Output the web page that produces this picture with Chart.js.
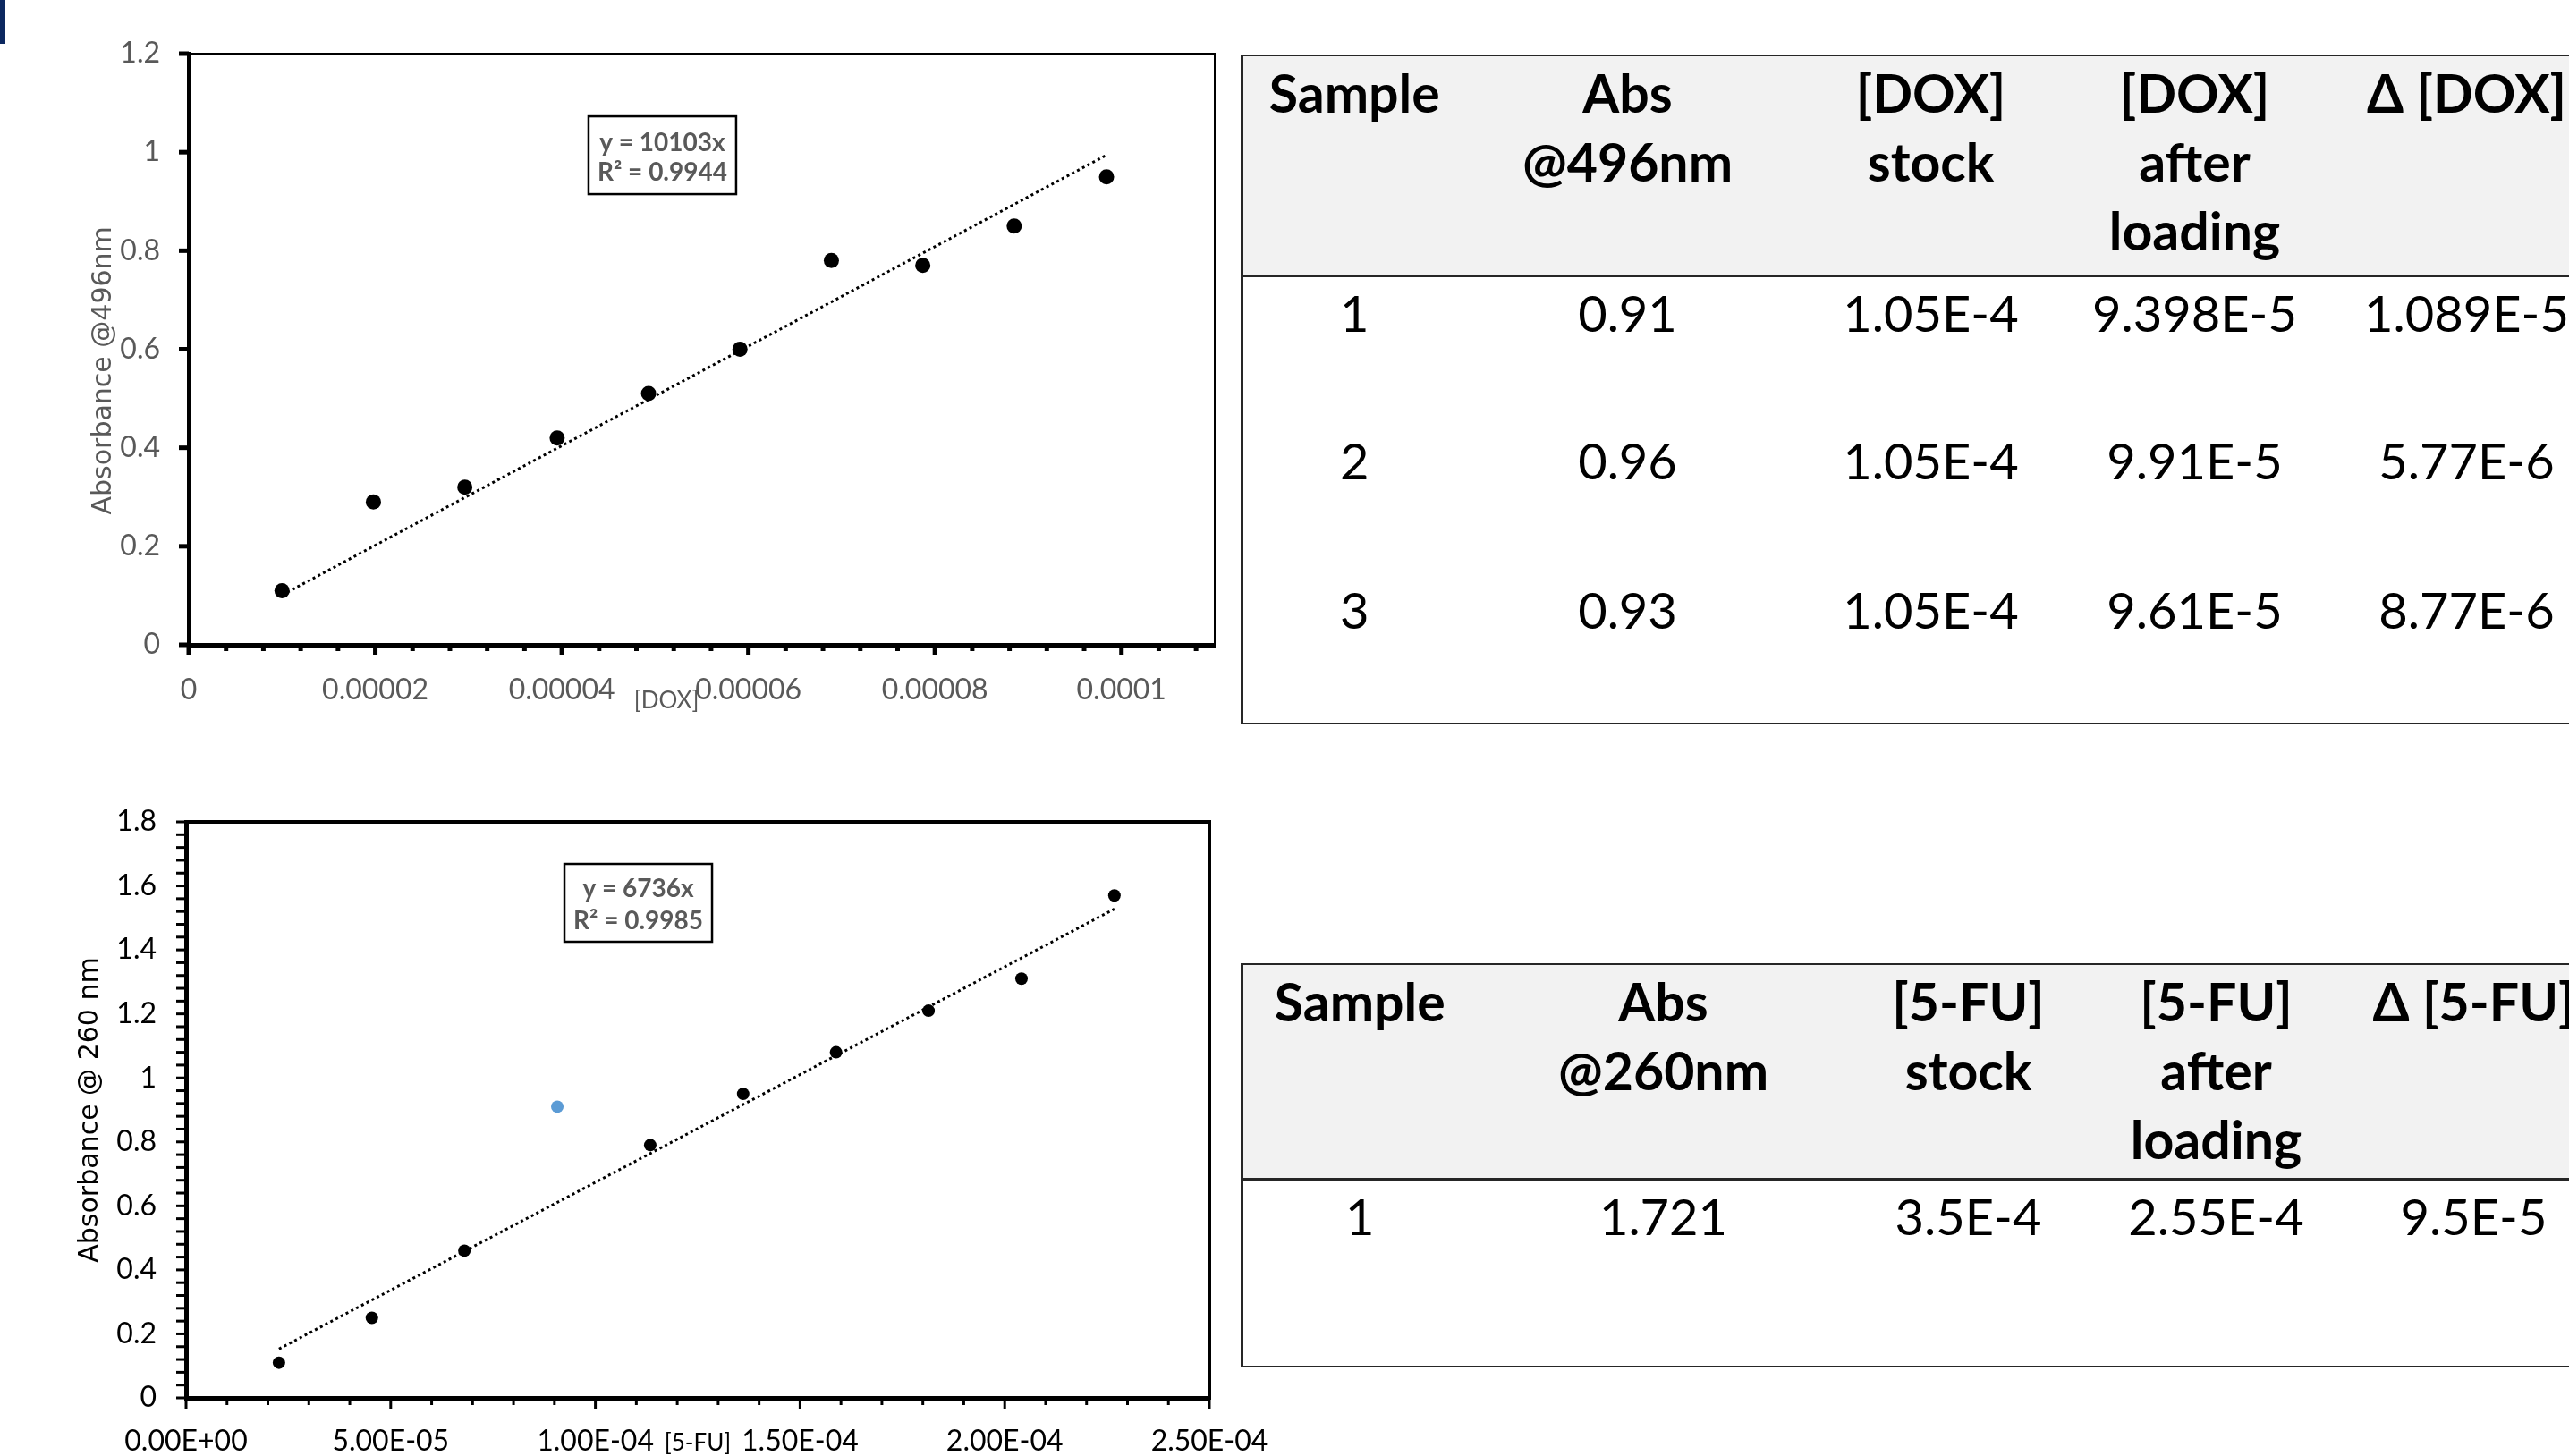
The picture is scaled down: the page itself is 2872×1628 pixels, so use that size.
<!DOCTYPE html>
<html>
<head>
<meta charset="utf-8">
<script src="https://cdn.jsdelivr.net/npm/chart.js@4.4.1/dist/chart.umd.min.js"></script>
<style>
  html, body { margin: 0; padding: 0; background: #fff; }
  body { width: 2872px; height: 1628px; overflow: hidden; position: relative; font-family: Lato, 'Noto Sans', sans-serif; }
  .bar { position: absolute; left: 0; top: 0; width: 6px; height: 49px; background: #0c2860; }
  canvas { position: absolute; }
  #c1 { left: 0; top: 0; }
  #c2 { left: 0; top: 860px; }
  table.tbl { position: absolute; left: 1387px; border-collapse: collapse; table-layout: fixed; color: #000; }
  table.tbl th { font-weight: 700; font-size: 59px; line-height: 77px; vertical-align: top; padding: 2px 0 0 0;
    background: #f2f2f2; text-align: center; white-space: nowrap; border-top: 2px solid #262626; border-bottom: 3px solid #262626; }
  table.tbl td { font-weight: 400; font-size: 56px; line-height: 77px; vertical-align: top; padding: 1px 0 0 0;
    text-align: center; white-space: nowrap; }
  table.tbl tr > :first-child { border-left: 3px solid #262626; }
  table.tbl tbody tr:last-child td { border-bottom: 2px solid #262626; }
  #t1 { top: 61px; }
  #t2 { top: 1077px; }
</style>
</head>
<body>
<div class="bar"></div>
<canvas id="c1" width="1380" height="820"></canvas>
<canvas id="c2" width="1440" height="768"></canvas>
<table class="tbl" id="t1"></table>
<table class="tbl" id="t2"></table>

<script>
// DOX calibration
const doxConc = [0.0000100, 0.0000198, 0.0000296, 0.0000395, 0.0000493, 0.0000591, 0.0000689, 0.0000787, 0.0000885, 0.0000984];
const doxAbs = [0.11, 0.29, 0.32, 0.42, 0.51, 0.60, 0.78, 0.77, 0.85, 0.95];
const doxSlope = 10103;
const doxFit = ['y = 10103x', 'R² = 0.9944'];

// 5-FU calibration (blue point left out of the fit)
const fuConc = [0.0000227, 0.0000454, 0.0000680, 0.0001134, 0.0001361, 0.0001588, 0.0001814, 0.0002041, 0.0002268];
const fuAbs = [0.11, 0.25, 0.46, 0.79, 0.95, 1.08, 1.21, 1.31, 1.57];
const fuOutConc = [0.0000907];
const fuOutAbs = [0.91];
const fuSlope = 6736;
const fuFit = ['y = 6736x', 'R² = 0.9985'];

// tables
const doxHead = [['Sample'], ['Abs', '@496nm'], ['[DOX]', 'stock'], ['[DOX]', 'after', 'loading'], ['Δ [DOX]']];
const doxSample = ['1', '2', '3'];
const doxAbs496 = ['0.91', '0.96', '0.93'];
const doxStock = ['1.05E-4', '1.05E-4', '1.05E-4'];
const doxAfter = ['9.398E-5', '9.91E-5', '9.61E-5'];
const doxDelta = ['1.089E-5', '5.77E-6', '8.77E-6'];

const fuHead = [['Sample'], ['Abs', '@260nm'], ['[5-FU]', 'stock'], ['[5-FU]', 'after', 'loading'], ['Δ [5-FU]']];
const fuSample = ['1'];
const fuAbs260 = ['1.721'];
const fuStock = ['3.5E-4'];
const fuAfter = ['2.55E-4'];
const fuDelta = ['9.5E-5'];

function buildTable(id, head, cols, widths, headH, rowH) {
  const t = document.getElementById(id);
  let html = '<colgroup>' + widths.map(w => `<col style="width:${w}px">`).join('') + '</colgroup>';
  html += `<thead><tr style="height:${headH}px">` + head.map(h => `<th>${h.join('<br>')}</th>`).join('') + '</tr></thead><tbody>';
  for (let r = 0; r < cols[0].length; r++) {
    html += `<tr style="height:${rowH}px">` + cols.map(c => `<td>${c[r]}</td>`).join('') + '</tr>';
  }
  t.innerHTML = html + '</tbody>';
  t.style.width = widths.reduce((a, b) => a + b, 0) + 'px';
}
buildTable('t1', doxHead, [doxSample, doxAbs496, doxStock, doxAfter, doxDelta], [250, 362, 316, 274, 334], 246, 167);
buildTable('t2', fuHead, [fuSample, fuAbs260, fuStock, fuAfter, fuDelta], [262, 418, 264, 290, 286], 240, 210);

// helpers
const isMajor = (v, m) => Math.abs(v / m - Math.round(v / m)) < 1e-6;
function stepTicks(min, max, step) {
  return scale => {
    const n = Math.floor((max - min) / step + 1e-6);
    const ticks = [];
    for (let i = 0; i <= n; i++) ticks.push({ value: +(min + i * step).toPrecision(10) });
    scale.ticks = ticks;
  };
}
const plain = v => String(parseFloat(v.toFixed(6)));
function excelSci(v) {
  const [m, e] = v.toExponential(2).split('e');
  return m + 'E' + e[0] + e.slice(1).padStart(2, '0');
}

// tick marks + plot frame
const tickMarks = {
  id: 'tickMarks',
  afterDatasetsDraw(chart, args, o) {
    const { ctx, chartArea: a } = chart;
    ctx.save();
    ctx.strokeStyle = '#000';
    ['x', 'y'].forEach(id => {
      const s = chart.scales[id];
      const t = o[id];
      s.ticks.forEach(tk => {
        const len = isMajor(tk.value, t.major) ? t.majorLen : t.minorLen;
        const p = s.getPixelForValue(tk.value);
        ctx.lineWidth = t.width;
        ctx.beginPath();
        if (id === 'x') { ctx.moveTo(p, a.bottom); ctx.lineTo(p, a.bottom + len); }
        else { ctx.moveTo(a.left, p); ctx.lineTo(a.left - len, p); }
        ctx.stroke();
      });
    });
    ctx.lineWidth = o.frame;
    ctx.strokeRect(a.left, a.top, a.right - a.left, a.bottom - a.top);
    ctx.restore();
  }
};

// trendline equation label
const eqBox = {
  id: 'eqBox',
  afterDraw(chart, args, o) {
    const { ctx, chartArea: a } = chart;
    const left = a.left + o.fx * (a.right - a.left) - o.w / 2;
    const top = a.top + o.fy * (a.bottom - a.top);
    ctx.save();
    ctx.fillStyle = '#fff';
    ctx.fillRect(left, top, o.w, o.h);
    ctx.strokeStyle = '#000';
    ctx.lineWidth = 2.5;
    ctx.strokeRect(left, top, o.w, o.h);
    ctx.fillStyle = '#595959';
    ctx.font = 'bold 28px Lato';
    ctx.textAlign = 'center';
    ctx.textBaseline = 'middle';
    o.lines.forEach((t, i) => ctx.fillText(t, left + o.w / 2, top + o.lineY[i]));
    ctx.restore();
  }
};

// small x-axis caption, Excel puts it off centre
const axisNote = {
  id: 'axisNote',
  afterDraw(chart, args, o) {
    const { ctx, chartArea: a } = chart;
    ctx.save();
    ctx.fillStyle = o.color;
    ctx.font = '26px Lato';
    ctx.textAlign = 'center';
    ctx.textBaseline = 'middle';
    ctx.fillText(o.text, a.left + o.fx * (a.right - a.left), a.bottom + o.dy);
    ctx.restore();
  }
};

Chart.defaults.font.family = 'Lato';

function trend(xs, slope) {
  const lo = Math.min(...xs), hi = Math.max(...xs);
  return [{ x: lo, y: slope * lo }, { x: hi, y: slope * hi }];
}

new Chart(document.getElementById('c1'), {
  type: 'scatter',
  data: {
    datasets: [
      { data: doxConc.map((x, i) => ({ x, y: doxAbs[i] })), pointRadius: 8.5, pointBackgroundColor: '#000', pointBorderWidth: 0 },
      { data: trend(doxConc, doxSlope), showLine: true, borderColor: '#000', borderWidth: 3, borderDash: [3, 3.5], pointRadius: 0, fill: false }
    ]
  },
  options: {
    responsive: false, animation: false, devicePixelRatio: 1,
    layout: { padding: { top: 60, right: 22, left: 0, bottom: 0 } },
    plugins: {
      legend: { display: false }, tooltip: { enabled: false },
      tickMarks: { frame: 2, x: { major: 0.00002, majorLen: 11, minorLen: 7, width: 5 }, y: { major: 0.2, majorLen: 11, minorLen: 11, width: 5 } },
      eqBox: { fx: 0.4616, fy: 0.106, w: 165, h: 87, lines: doxFit, lineY: [30, 63] },
      axisNote: { text: '[DOX]', color: '#595959', fx: 0.4656, dy: 63 }
    },
    scales: {
      x: {
        type: 'linear', min: 0, max: 0.00011,
        afterBuildTicks: stepTicks(0, 0.00011, 0.000004),
        afterFit: s => { s.height = 99; s.paddingLeft = 0; s.paddingRight = 0; },
        grid: { display: false, drawTicks: false },
        border: { display: true, color: '#000', width: 5 },
        ticks: { autoSkip: false, maxRotation: 0, minRotation: 0, padding: 31, color: '#595959', font: { size: 32 },
          callback: v => isMajor(v, 0.00002) ? plain(v) : '' }
      },
      y: {
        type: 'linear', min: 0, max: 1.2,
        afterBuildTicks: stepTicks(0, 1.2, 0.2),
        afterFit: s => { s.width = 211; s.paddingTop = 0; s.paddingBottom = 0; },
        grid: { display: false, drawTicks: false },
        border: { display: true, color: '#000', width: 5 },
        title: { display: true, text: 'Absorbance @496nm     ', color: '#595959', font: { family: 'DejaVu Sans', size: 30 }, padding: { top: 98, bottom: 0 } },
        ticks: { autoSkip: false, padding: 32, color: '#595959', font: { size: 32 },
          callback: v => String(parseFloat(v.toFixed(2))) }
      }
    }
  },
  plugins: [tickMarks, eqBox, axisNote]
});

new Chart(document.getElementById('c2'), {
  type: 'scatter',
  data: {
    datasets: [
      { data: fuConc.map((x, i) => ({ x, y: fuAbs[i] })), pointRadius: 7, pointBackgroundColor: '#000', pointBorderWidth: 0 },
      { data: fuOutConc.map((x, i) => ({ x, y: fuOutAbs[i] })), pointRadius: 7, pointBackgroundColor: '#5b9bd5', pointBorderWidth: 0 },
      { data: trend(fuConc, fuSlope), showLine: true, borderColor: '#000', borderWidth: 3, borderDash: [3, 3.5], pointRadius: 0, fill: false }
    ]
  },
  options: {
    responsive: false, animation: false, devicePixelRatio: 1,
    layout: { padding: { top: 59, right: 88, left: 0, bottom: 0 } },
    plugins: {
      legend: { display: false }, tooltip: { enabled: false },
      tickMarks: { frame: 4, x: { major: 0.00005, majorLen: 12, minorLen: 8, width: 3 }, y: { major: 0.2, majorLen: 11, minorLen: 11, width: 3 } },
      eqBox: { fx: 0.4419, fy: 0.073, w: 165, h: 87, lines: fuFit, lineY: [28, 64] },
      axisNote: { text: '[5-FU]', color: '#000', fx: 0.5, dy: 51 }
    },
    scales: {
      x: {
        type: 'linear', min: 0, max: 0.00025,
        afterBuildTicks: stepTicks(0, 0.00025, 0.00001),
        afterFit: s => { s.height = 65; s.paddingLeft = 0; s.paddingRight = 0; },
        grid: { display: false, drawTicks: false },
        border: { display: true, color: '#000', width: 5 },
        ticks: { autoSkip: false, maxRotation: 0, minRotation: 0, padding: 29, color: '#000', font: { size: 32 },
          callback: v => isMajor(v, 0.00005) ? excelSci(v) : '' }
      },
      y: {
        type: 'linear', min: 0, max: 1.8,
        afterBuildTicks: stepTicks(0, 1.8, 0.04),
        afterFit: s => { s.width = 208; s.paddingTop = 0; s.paddingBottom = 0; },
        grid: { display: false, drawTicks: false },
        border: { display: true, color: '#000', width: 5 },
        title: { display: true, text: 'Absorbance @ 260 nm', color: '#000', font: { family: 'DejaVu Sans', size: 30 }, padding: { top: 83, bottom: 0 } },
        ticks: { autoSkip: false, padding: 33, color: '#000', font: { size: 32 },
          callback: v => isMajor(v, 0.2) ? String(parseFloat(v.toFixed(2))) : '' }
      }
    }
  },
  plugins: [tickMarks, eqBox, axisNote]
});
</script>
</body>
</html>
